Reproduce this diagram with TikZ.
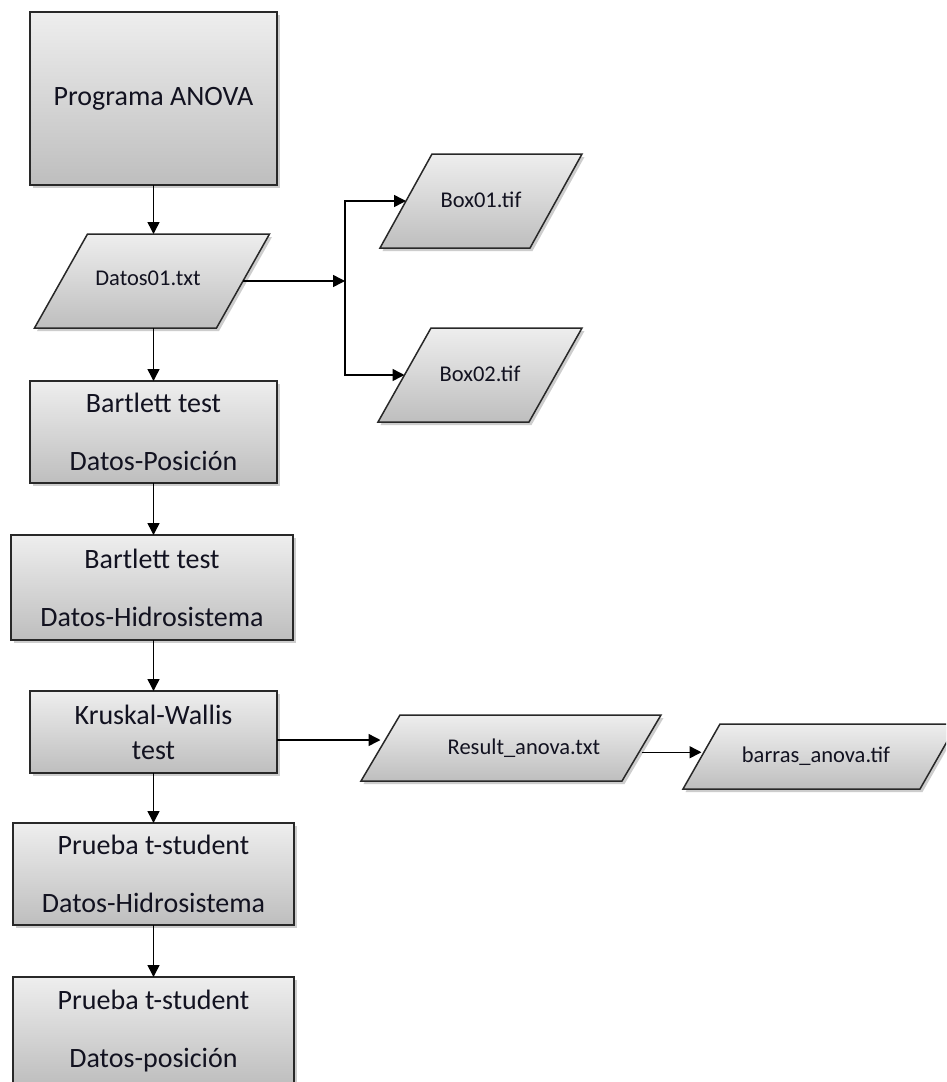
\documentclass[tikz,border=0pt]{standalone}
\usepackage{fontspec}
\setmainfont{Carlito}
\usetikzlibrary{arrows.meta,shadows,calc}

\definecolor{topg}{RGB}{238,238,238}
\definecolor{botg}{RGB}{190,190,190}
\definecolor{edge}{RGB}{40,40,40}
\definecolor{txt}{RGB}{18,18,32}

% data (parallelogram) symbol: name, x, y, side length, height, skew, text
\newcommand\ioPara[7]{%
  \path[iofill] ({#2-#4/2-#6/2},{#3+#5/2}) -- ({#2+#4/2-#6/2},{#3+#5/2})
     -- ({#2+#4/2+#6/2},{#3-#5/2}) -- ({#2-#4/2+#6/2},{#3-#5/2}) -- cycle;
  \node[iotext, minimum width=#4pt, minimum height=#5pt] (#1) at (#2,#3) {#7};}

\tikzset{
  shade/.style={top color=topg, bottom color=botg,
    drop shadow={shadow xshift=2.5pt, shadow yshift=-3pt, opacity=0.28, fill=black!70}},
  procbox/.style={shade, draw=edge, line width=1.6pt, inner sep=0pt, outer sep=0pt,
    align=center, text=txt, font=\fontsize{28}{58}\selectfont},
  iofill/.style={shade, draw=edge, line width=1.5pt, line join=miter},
  iotext/.style={inner sep=0pt, outer sep=0pt, text=txt, font=\fontsize{22.5}{27}\selectfont},
  conn/.style={line width=1.5pt, -{Triangle[length=12pt,width=12pt]}},
}

\begin{document}
\begin{tikzpicture}[x=1pt, y=-1pt]
\clip (0,0) rectangle (946,1082);
\fill[white] (0,0) rectangle (946,1082);

% process boxes of the main column
\node[procbox, minimum width=247pt, minimum height=173pt] (prog) at (153.5,98.5) {Programa ANOVA};
\node[procbox, minimum width=247pt, minimum height=102pt] (bt1) at (153.5,432) {Bartlett test\\Datos-Posición};
\node[procbox, minimum width=282pt, minimum height=105pt] (bt2) at (152,587.5) {Bartlett test\\Datos-Hidrosistema};
\node[procbox, minimum width=247pt, minimum height=82pt, font=\fontsize{28}{35}\selectfont] (kw) at (153.5,732) {Kruskal-Wallis\\test};
\node[procbox, minimum width=281pt, minimum height=102pt] (pt1) at (153.5,874) {Prueba t-student\\Datos-Hidrosistema};
\node[procbox, minimum width=281pt, minimum height=108pt] (pt2) at (153.5,1031) {Prueba t-student\\Datos-posición};

% data files
\ioPara{dat}{152}{281}{182}{94}{53}{\raisebox{5pt}{Datos01.txt}\hspace*{8pt}}
\ioPara{b1}{481}{201}{150}{94}{52}{\raisebox{3pt}{Box01.tif}}
\ioPara{b2}{480}{375}{151}{94}{53}{\raisebox{3pt}{Box02.tif}}
\ioPara{res}{511}{748}{261}{66}{39}{\hspace*{26pt}Result\_anova.txt}
\ioPara{ba}{820}{756.5}{237}{65}{37}{barras\_anova.tif\hspace*{8pt}}

% main flow
\draw[conn] (prog.south) -- (prog.south |- dat.north);
\draw[conn] (bt1.north |- dat.south) -- (bt1.north);
\draw[conn] (bt1.south) -- (bt1.south |- bt2.north);
\draw[conn] (kw.north |- bt2.south) -- (kw.north);
\draw[conn] (kw.south) -- (kw.south |- pt1.north);
\draw[conn] (pt1.south) -- (pt1.south |- pt2.north);

% branch to the box plots
\coordinate (j) at (345,281);
\draw[conn] (dat.east) -- (j);
\draw[conn] (j) |- (b1.west);
\draw[conn] (j) |- (b2.west);

% results branch
\coordinate (m1) at ($(kw.east)!.5!(res.west)$);
\draw[conn] (kw.east |- m1) -- (res.west |- m1);
\coordinate (m2) at ($(res.east)!.5!(ba.west)$);
\draw[conn] (res.east |- m2) -- (ba.west |- m2);
\end{tikzpicture}
\end{document}
